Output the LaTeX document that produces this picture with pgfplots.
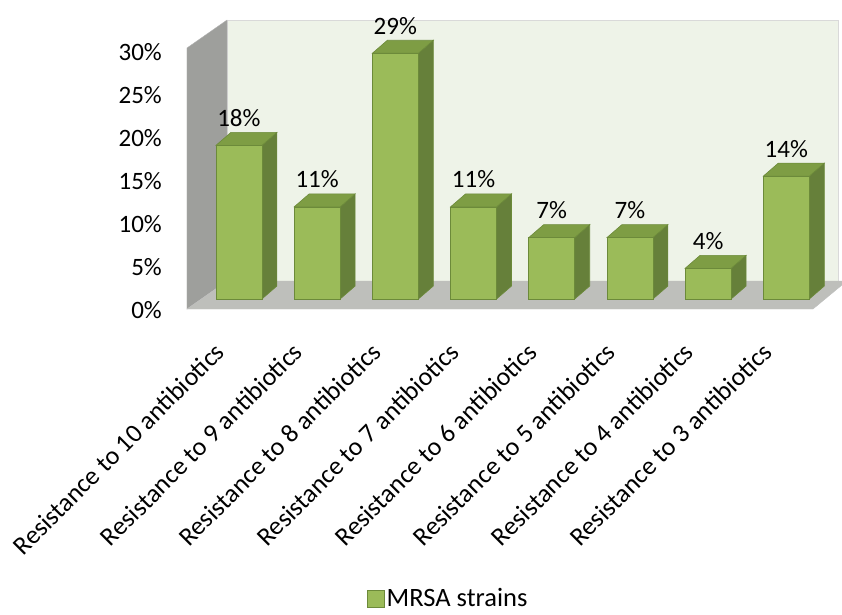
\documentclass[border=0pt]{standalone}
\usepackage{pgfplots}
\pgfplotsset{compat=1.18}
\usepackage{fontspec}
\setmainfont{Carlito}
\definecolor{barfront}{HTML}{9BBB59}
\definecolor{bartop}{HTML}{7E9D44}
\definecolor{barside}{HTML}{66803A}
\definecolor{baredge}{HTML}{6C8A3A}
\definecolor{backwall}{HTML}{EEF3E8}
\definecolor{sidewall}{HTML}{9E9F9C}
\definecolor{floorc}{HTML}{BEBFBB}
\begin{document}
\begin{tikzpicture}
\useasboundingbox (-187pt,-304pt) rectangle (655pt,310pt);
\begin{axis}[
  scale only axis, width=655pt, height=290pt,
  xmin=-0.664, xmax=7.712, ymin=-1.279, ymax=32.44,
  clip=false,
  axis line style={draw=none},
  major tick length=0pt,
  /pgf/number format/assume math mode=true,
  xtick={0,1,2,3,4,5,6,7},
  xticklabels={Resistance to 10 antibiotics,Resistance to 9 antibiotics,Resistance to 8 antibiotics,Resistance to 7 antibiotics,Resistance to 6 antibiotics,Resistance to 5 antibiotics,Resistance to 4 antibiotics,Resistance to 3 antibiotics},
  xticklabel style={rotate=45, anchor=east, inner sep=0pt, xshift=-40pt, yshift=-13pt, font=\fontsize{26}{31}\selectfont},
  ytick={-1.279,3.721,8.721,13.721,18.721,23.721,28.721},
  yticklabels={0\%,5\%,10\%,15\%,20\%,25\%,30\%},
  yticklabel style={anchor=east, inner sep=0pt, xshift=-25pt, font=\fontsize{25}{30}\selectfont},
  legend style={draw=none, fill=none, at={(axis description cs:0.275,-0.995)}, anchor=west, font=\fontsize{26.5}{30}\selectfont, inner sep=0pt},
]
% back wall
\addplot[fill=backwall, draw=black!15, forget plot] coordinates {(-0.152,2.093) (7.661,2.093) (7.661,32.44) (-0.152,32.44)} --cycle;
% left wall
\addplot[fill=sidewall, draw=black!30, forget plot] coordinates {(-0.664,-1.163) (-0.664,29.19) (-0.152,32.44) (-0.152,2.093)} --cycle;
% floor
\addplot[fill=floorc, draw=black!25, forget plot] coordinates {(-0.664,-1.163) (7.341,-1.163) (7.712,1.628) (7.712,2.093) (-0.152,2.093)} --cycle;
% bars (share of 28 strains)
\foreach \i/\v in {0/17.86,1/10.71,2/28.57,3/10.71,4/7.14,5/7.14,6/3.57,7/14.29}{
  \pgfmathsetmacro\xl{\i-0.294}
  \pgfmathsetmacro\xr{\i+0.294}
  \pgfmathsetmacro\xlb{\i-0.294+0.192}
  \pgfmathsetmacro\xrb{\i+0.294+0.192}
  \pgfmathsetmacro\yt{\v+1.512}
  \edef\tmp{
    \noexpand\addplot[fill=barside, draw=baredge, line width=0.6pt, forget plot] coordinates {(\xr,0) (\xrb,1.512) (\xrb,\yt) (\xr,\v)} --cycle;
    \noexpand\addplot[fill=bartop, draw=baredge, line width=0.6pt, forget plot] coordinates {(\xl,\v) (\xr,\v) (\xrb,\yt) (\xlb,\yt)} --cycle;
    \noexpand\addplot[fill=barfront, draw=baredge, line width=0.6pt, forget plot] coordinates {(\xl,0) (\xr,0) (\xr,\v) (\xl,\v)} --cycle;
  }
  \tmp
}
% value labels
\addplot[draw=none, mark=none, forget plot, point meta=explicit symbolic,
  nodes near coords={\pgfplotspointmeta\%},
  nodes near coords style={anchor=base, inner sep=0pt, font=\fontsize{25}{30}\selectfont, black}]
  table[x=x, y expr=\thisrow{v}+2.2, meta=lab] {
x v lab
0 17.86 18
1 10.71 11
2 28.57 29
3 10.71 11
4 7.14 7
5 7.14 7
6 3.57 4
7 14.29 14
};
\addlegendimage{legend image code/.code={\draw[fill=barfront, draw=baredge] (0pt,-8.5pt) rectangle (17pt,8.5pt);}}
\addlegendentry{MRSA strains}
\end{axis}
\end{tikzpicture}
\end{document}
